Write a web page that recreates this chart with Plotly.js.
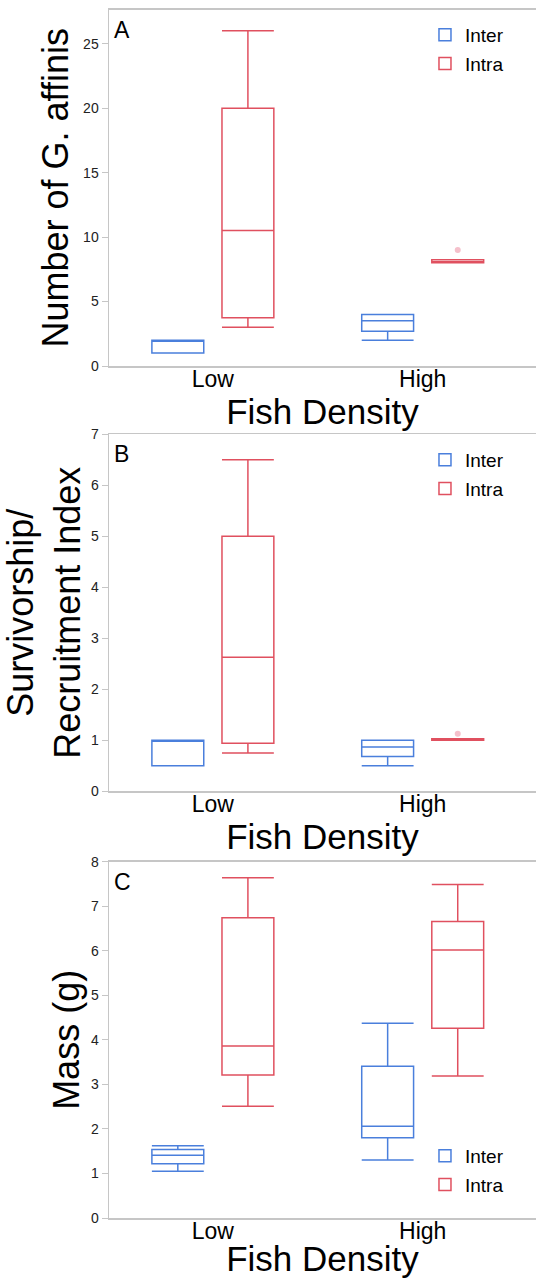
<!DOCTYPE html>
<html>
<head>
<meta charset="utf-8">
<script src="https://cdn.plot.ly/plotly-3.0.1.min.js"></script>
<style>html,body{margin:0;padding:0;background:#fff;}#chart{width:536px;height:1278px;}</style>
</head>
<body>
<div id="chart"></div>
<script>
// Categories and series
const categories = ['Low', 'High'];
const seriesNames = ['Inter', 'Intra'];
const panelLabels = ['A', 'B', 'C'];
const xTitle = 'Fish Density';
const yTitles = ['Number of G. affinis', 'Survivorship/<br>Recruitment Index', 'Mass (g)'];

// Panel A: Number of G. affinis
const aInterLower = [1, 2];
const aInterQ1 = [1, 2.7];
const aInterMedian = [2, 3.5];
const aInterQ3 = [2, 4];
const aInterUpper = [2, 4];
const aIntraLower = [3, 8];
const aIntraQ1 = [3.75, 8];
const aIntraMedian = [10.5, 8];
const aIntraQ3 = [20, 8.25];
const aIntraUpper = [26, 8.25];
const aIntraOutlierCats = ['High'];
const aIntraOutliers = [9];

// Panel B: Survivorship / Recruitment Index
const bInterLower = [0.5, 0.5];
const bInterQ1 = [0.5, 0.68];
const bInterMedian = [1, 0.87];
const bInterQ3 = [1, 1];
const bInterUpper = [1, 1];
const bIntraLower = [0.75, 1];
const bIntraQ1 = [0.94, 1];
const bIntraMedian = [2.63, 1];
const bIntraQ3 = [5, 1.03];
const bIntraUpper = [6.5, 1.03];
const bIntraOutlierCats = ['High'];
const bIntraOutliers = [1.13];

// Panel C: Mass (g)
const cInterLower = [1.05, 1.3];
const cInterQ1 = [1.22, 1.8];
const cInterMedian = [1.41, 2.06];
const cInterQ3 = [1.54, 3.41];
const cInterUpper = [1.62, 4.37];
const cIntraLower = [2.51, 3.19];
const cIntraQ1 = [3.21, 4.26];
const cIntraMedian = [3.86, 6.02];
const cIntraQ3 = [6.74, 6.66];
const cIntraUpper = [7.64, 7.49];

const blue = '#4a7fdc';
const red = '#e0505f';
const outlierColor = 'rgba(238,150,168,0.6)';
const FONT = 'Liberation Sans, Arial, Helvetica, sans-serif';

function sfxOf(idx) { return idx === 0 ? '' : String(idx + 1); }

function boxTrace(name, color, idx, lower, q1, med, q3, upper) {
  const sfx = sfxOf(idx);
  return {
    type: 'box',
    name: name,
    x: categories,
    lowerfence: lower, q1: q1, median: med, q3: q3, upperfence: upper,
    xaxis: 'x' + sfx, yaxis: 'y' + sfx,
    legend: 'legend' + sfx,
    legendgroup: name + idx,
    offsetgroup: name,
    alignmentgroup: 'g' + idx,
    line: {color: color, width: 1.5},
    fillcolor: 'rgba(255,255,255,0)',
    whiskerwidth: 1,
    boxpoints: false,
    hoverinfo: 'y'
  };
}

// outlier points drawn as an invisible box (same group offset) showing its sample point
function outlierTrace(name, idx, cats, vals) {
  const sfx = sfxOf(idx);
  return {
    type: 'box',
    name: name,
    x: cats,
    y: vals,
    xaxis: 'x' + sfx, yaxis: 'y' + sfx,
    legend: 'legend' + sfx,
    legendgroup: name + idx,
    showlegend: false,
    offsetgroup: name,
    alignmentgroup: 'g' + idx,
    line: {color: 'rgba(0,0,0,0)', width: 0},
    fillcolor: 'rgba(0,0,0,0)',
    boxpoints: 'all', jitter: 0, pointpos: 0,
    marker: {color: outlierColor, size: 6},
    hoverinfo: 'y'
  };
}

const data = [
  boxTrace(seriesNames[0], blue, 0, aInterLower, aInterQ1, aInterMedian, aInterQ3, aInterUpper),
  boxTrace(seriesNames[1], red, 0, aIntraLower, aIntraQ1, aIntraMedian, aIntraQ3, aIntraUpper),
  outlierTrace(seriesNames[1], 0, aIntraOutlierCats, aIntraOutliers),
  boxTrace(seriesNames[0], blue, 1, bInterLower, bInterQ1, bInterMedian, bInterQ3, bInterUpper),
  boxTrace(seriesNames[1], red, 1, bIntraLower, bIntraQ1, bIntraMedian, bIntraQ3, bIntraUpper),
  outlierTrace(seriesNames[1], 1, bIntraOutlierCats, bIntraOutliers),
  boxTrace(seriesNames[0], blue, 2, cInterLower, cInterQ1, cInterMedian, cInterQ3, cInterUpper),
  boxTrace(seriesNames[1], red, 2, cIntraLower, cIntraQ1, cIntraMedian, cIntraQ3, cIntraUpper)
];

const H = 1278;
const MB = 60;
const PH = H - MB;
function fy(px) { return Math.max(0, Math.min(1, (PH - px) / PH)); }
const domains = [[fy(366), fy(9.5)], [fy(791.3), fy(434.3)], [fy(1218.3), fy(861.7)]];
const yRanges = [[0, 27.65], [0, 7], [0, 8]];
const yDticks = [5, 1, 1];
const yStandoffs = [3, 10, 0];
const legendY = [fy(16), fy(441), fy(1137)];

const layout = {
  width: 536, height: H,
  margin: {l: 109, r: 0, t: 0, b: MB},
  paper_bgcolor: '#fff', plot_bgcolor: '#fff',
  font: {family: FONT, color: '#000'},
  boxmode: 'group',
  boxgap: 0.332,
  boxgroupgap: 0.26,
  showlegend: true,
  annotations: []
};

for (let i = 0; i < 3; i++) {
  const sfx = sfxOf(i);
  layout['xaxis' + sfx] = {
    type: 'category',
    categoryorder: 'array', categoryarray: categories,
    range: [-0.495, 1.54],
    anchor: 'y' + sfx,
    showline: true, linecolor: '#c6c6c6', linewidth: 1.5, mirror: true,
    ticks: '', showgrid: false, zeroline: false,
    ticklabelstandoff: -8,
    tickfont: {size: 23, color: '#000', family: FONT},
    title: {text: xTitle, font: {size: 35, color: '#000', family: FONT}, standoff: 0}
  };
  layout['yaxis' + sfx] = {
    domain: domains[i],
    range: yRanges[i],
    dtick: yDticks[i],
    anchor: 'x' + sfx,
    showline: true, linecolor: '#c6c6c6', linewidth: 1.5,
    ticks: 'outside', ticklen: 6, tickcolor: '#c6c6c6', tickwidth: 1,
    showgrid: false, zeroline: false,
    tickfont: {size: 14, color: '#222', family: FONT},
    title: {text: yTitles[i], font: {size: 36, color: '#000', family: FONT}, standoff: yStandoffs[i]}
  };
  layout['legend' + sfx] = {
    x: 0.74, xanchor: 'left',
    y: legendY[i], yanchor: 'top',
    bgcolor: 'rgba(0,0,0,0)',
    font: {size: 19, color: '#000', family: FONT},
    tracegroupgap: 1
  };
  layout.annotations.push({
    text: panelLabels[i], showarrow: false,
    xref: 'x' + sfx + ' domain', yref: 'y' + sfx + ' domain',
    x: 0, y: 1, xanchor: 'left', yanchor: 'top', xshift: 3, yshift: -5,
    font: {size: 23, color: '#000', family: FONT}
  });
}

Plotly.newPlot('chart', data, layout, {displayModeBar: false, staticPlot: true});
</script>
</body>
</html>
